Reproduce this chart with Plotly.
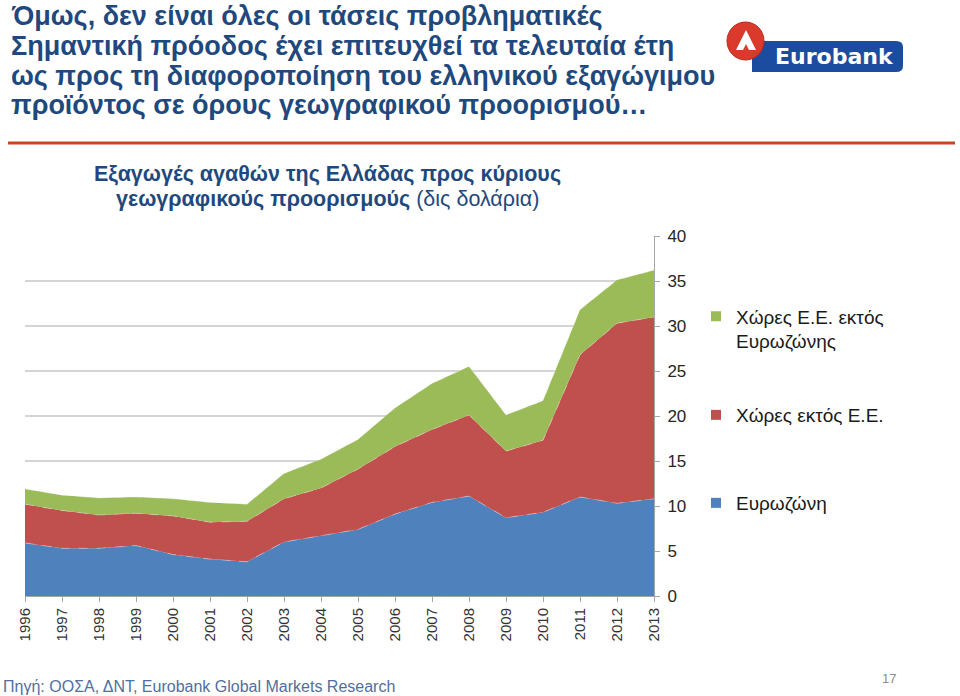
import plotly.graph_objects as go

years = list(range(1996, 2014))
year_labels = [str(y) for y in years]

eurozone = [5.9, 5.3, 5.3, 5.6, 4.6, 4.1, 3.8, 6.0, 6.7, 7.4, 9.1, 10.4, 11.1, 8.7, 9.3, 11.0, 10.3, 10.8]
non_eu = [4.3, 4.2, 3.7, 3.6, 4.3, 4.1, 4.5, 4.8, 5.3, 6.7, 7.5, 8.1, 9.0, 7.4, 8.0, 15.8, 20.0, 20.2]
eu_non_euro = [1.7, 1.7, 1.9, 1.8, 1.9, 2.2, 1.9, 2.8, 3.2, 3.3, 4.3, 5.1, 5.4, 4.0, 4.4, 5.0, 4.8, 5.2]

names = ["Ευρωζώνη", "Χώρες εκτός Ε.Ε.", "Χώρες Ε.Ε. εκτός<br>Ευρωζώνης"]
colors = ["#4F81BD", "#C0504D", "#9BBB59"]
series = [eurozone, non_eu, eu_non_euro]

title_lines = [
    "Όμως, δεν είναι όλες οι τάσεις προβληματικές",
    "Σημαντική πρόοδος έχει επιτευχθεί τα τελευταία έτη",
    "ως προς τη διαφοροποίηση του ελληνικού εξαγώγιμου",
    "προϊόντος σε όρους γεωγραφικού προορισμού…",
]
subtitle_lines = [
    "<b>Εξαγωγές αγαθών της Ελλάδας προς κύριους</b>",
    "<b>γεωγραφικούς προορισμούς</b> (δις δολάρια)",
]
source_text = "Πηγή: ΟΟΣΑ, ΔΝΤ, Eurobank Global Markets Research"
page_number = "17"

W, H = 960, 696
def px(x):
    return x / W
def py(y):
    return 1 - y / H

FONT = "Liberation Sans, Arial, sans-serif"

fig = go.Figure()
line_cols = ["rgba(220,230,245,0.55)", "rgba(245,215,215,0.55)", "rgba(225,240,200,0.55)"]
for name, col, vals, lc in zip(names, colors, series, line_cols):
    fig.add_trace(go.Scatter(
        x=years, y=vals, stackgroup="one", mode="lines",
        line=dict(width=0.8, color=lc, dash="dash"),
        fillcolor=col, name=name, showlegend=False, hoverinfo="x+y+name",
    ))

# legend entries (three independent legends for spacing)
legend_keys = ["legend3", "legend2", "legend"]
for name, col, lk in zip(names, colors, legend_keys):
    fig.add_trace(go.Scatter(
        x=[None], y=[None], mode="markers",
        marker=dict(symbol="square", size=10, color=col),
        name=name, showlegend=True, legend=lk,
    ))

leg_common = dict(
    font=dict(family=FONT, size=19, color="#1a1a1a"),
    bgcolor="rgba(0,0,0,0)", xanchor="left", yanchor="middle",
    itemwidth=30, valign="top",
)
fig.update_layout(
    legend=dict(x=px(696), y=py(329), **leg_common),
    legend2=dict(x=px(696), y=py(415), **leg_common),
    legend3=dict(x=px(696), y=py(503), **leg_common),
)

fig.update_layout(
    width=W, height=H, autosize=False,
    margin=dict(l=0, r=0, t=0, b=0, pad=0),
    paper_bgcolor="white", plot_bgcolor="white",
    font=dict(family=FONT),
    xaxis=dict(
        domain=[px(25), px(654)], range=[1996, 2013], type="linear",
        tickmode="array", tickvals=years, ticktext=year_labels, tickangle=-90,
        ticks="outside", ticklen=5, tickcolor="#A6A6A6",
        showline=True, linecolor="#A6A6A6", linewidth=1,
        showgrid=False, zeroline=False, automargin=False,
        tickfont=dict(size=15, color="#333333"),
    ),
    yaxis=dict(
        domain=[py(596), py(236)], range=[0, 40], side="right",
        tickmode="linear", tick0=0, dtick=5,
        ticks="outside", ticklen=5, tickcolor="#A6A6A6",
        showline=True, linecolor="#A6A6A6", linewidth=1,
        showgrid=True, gridcolor="#D4D4D4", gridwidth=1.5, zeroline=False,
        automargin=False,
        tickfont=dict(size=17, color="#262626"),
        ticklabelstandoff=4,
    ),
)

annotations = []
title_y = [16, 46, 76, 105]
for t, yy in zip(title_lines, title_y):
    annotations.append(dict(
        text="<b>" + t + "</b>", x=px(9), y=py(yy), xref="paper", yref="paper",
        xanchor="left", yanchor="middle", showarrow=False,
        font=dict(family=FONT, size=27, color="#1F497D"),
    ))
for t, yy in zip(subtitle_lines, [174, 199]):
    annotations.append(dict(
        text=t, x=px(327), y=py(yy), xref="paper", yref="paper",
        xanchor="center", yanchor="middle", showarrow=False,
        font=dict(family=FONT, size=21.5, color="#1F497D"),
    ))
annotations.append(dict(
    text=source_text,
    x=px(1), y=py(686), xref="paper", yref="paper",
    xanchor="left", yanchor="middle", showarrow=False,
    font=dict(family=FONT, size=16, color="#4F6F9F"),
))
annotations.append(dict(
    text=page_number, x=px(889), y=py(678), xref="paper", yref="paper",
    xanchor="center", yanchor="middle", showarrow=False,
    font=dict(family=FONT, size=13, color="#8C8C8C"),
))
annotations.append(dict(
    text="<b>Eurobank</b>", x=px(834), y=py(56), xref="paper", yref="paper",
    xanchor="center", yanchor="middle", showarrow=False,
    font=dict(family="DejaVu Sans, Liberation Sans, sans-serif", size=22, color="white"),
))
fig.update_layout(annotations=annotations)

shapes = [
    # orange rule
    dict(type="line", xref="paper", yref="paper", x0=px(8), x1=px(955), y0=py(143), y1=py(143),
         line=dict(color="#C4481C", width=3)),
    # logo banner
    dict(type="path", xref="paper", yref="paper",
         path=f"M {px(752)},{py(41)} L {px(896)},{py(41)} Q {px(903)},{py(41)} {px(903)},{py(47)} "
              f"L {px(903)},{py(66)} Q {px(903)},{py(72)} {px(896)},{py(72)} L {px(752)},{py(72)} Z",
         fillcolor="#1C4CA0", line=dict(width=0)),
    # logo ball
    dict(type="circle", xref="paper", yref="paper", x0=px(727), x1=px(764), y0=py(60), y1=py(22),
         fillcolor="#D93A2B", line=dict(color="#B32A1E", width=1)),
    dict(type="path", xref="paper", yref="paper",
         path=f"M {px(736)},{py(50)} L {px(746)},{py(30)} L {px(756)},{py(50)} L {px(749)},{py(50)} "
              f"L {px(746)},{py(44)} L {px(743)},{py(50)} Z",
         fillcolor="white", line=dict(width=0)),
]
fig.update_layout(shapes=shapes)

fig.write_html("out.html", config={"displayModeBar": False},
               post_script="document.body.style.margin='0px';")
